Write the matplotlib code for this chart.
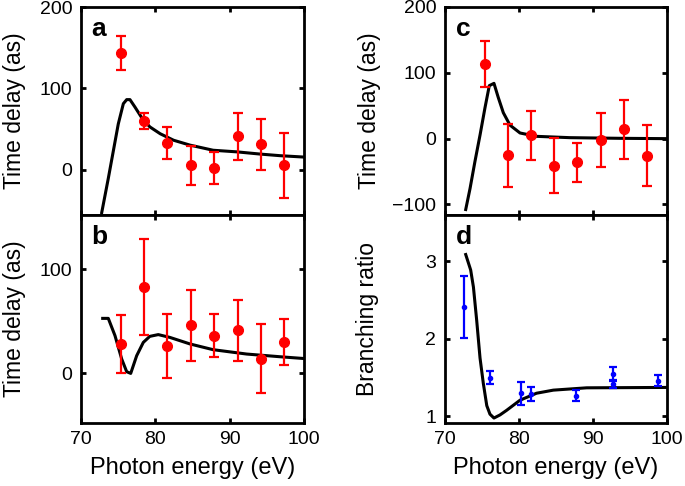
import matplotlib
matplotlib.use("Agg")
import matplotlib.pyplot as plt
import numpy as np

plt.rcParams['font.family'] = ['Liberation Sans', 'DejaVu Sans']

# ---- data ----
energy = [75.4, 78.5, 81.6, 84.8, 87.9, 91.1, 94.2, 97.3]

# panel a
a_delay = [143, 60, 33, 5, 1.7, 41, 31, 5]
a_err = [21, 10, 19.5, 23.5, 20, 29, 31.5, 40]
a_theory_x = [72.85, 73.73, 74.4, 75.07, 75.75, 76.2, 76.64, 77.3, 78.2, 79.3, 80.7,
              82.5, 84.7, 87.8, 91.0, 94.1, 96.8, 99.8]
a_theory_y = [-53, -11, 22.5, 56, 81, 86, 86, 77, 64, 52.5, 44,
              36, 30, 23.7, 21.7, 19, 17, 15.4]

# panel b
b_delay = [28, 83, 26, 46, 36, 41, 14, 30]
b_err = [28, 46, 31, 34, 21, 29, 33, 22]
b_theory_x = [72.98, 73.73, 74.63, 75.53, 76.2, 76.74, 77.54, 78.43, 79.3, 80.44, 82.0,
              84.7, 87.8, 92.3, 96.8, 99.8]
b_theory_y = [52.6, 52.6, 36, 13.5, 1.3, -0.3, 16.7, 29.5, 35.3, 37, 34.3,
              28, 22.5, 18.3, 15.7, 14.1]

# panel c
c_delay = [114, -25, 5, -41, -36, -2, 14, -26]
c_err = [35, 48, 37, 42, 30, 41, 45, 46]
c_theory_x = [72.86, 73.44, 74.1, 74.8, 75.46, 76.04, 76.67, 77.25, 77.93, 78.83, 80.18,
              82.4, 86.9, 93.66, 99.96]
c_theory_y = [-107.7, -76, -35, 6, 47, 80.5, 84, 62.5, 39.4, 20.5, 8.6,
              3.5, 1.5, 0.5, 0]

# panel d
d_energy = [72.6, 76.2, 80.27, 81.66, 87.69, 92.76, 92.76, 98.74]
d_ratio = [2.41, 1.50, 1.30, 1.29, 1.27, 1.55, 1.42, 1.46]
d_err = [0.40, 0.085, 0.15, 0.09, 0.07, 0.09, 0.05, 0.07]
d_theory_x = [72.86, 73.53, 73.9, 74.34, 74.79, 75.23, 75.7, 76.13, 76.67, 77.48, 78.38,
              80.18, 82.4, 84.67, 89.17, 99.96]
d_theory_y = [3.09, 2.89, 2.67, 2.24, 1.755, 1.43, 1.14, 1.03, 0.98, 1.02, 1.08,
              1.21, 1.30, 1.34, 1.37, 1.375]

xticks = [70, 80, 90, 100]

# ---- figure ----
W, H = 685, 486
fig = plt.figure(figsize=(W / 100, H / 100), dpi=100)

def box(l, t, r, b):
    return [l / W, 1 - b / H, (r - l) / W, (b - t) / H]

ax_a = fig.add_axes(box(80.5, 7, 304, 215))
ax_b = fig.add_axes(box(80.5, 215, 304, 423))
ax_c = fig.add_axes(box(444.5, 7, 667, 215))
ax_d = fig.add_axes(box(444.5, 215, 667, 423))

red = '#ff0000'
blue = '#0000ff'
TICK = 14
LABEL = 16.5

def style(ax, bottom_labels):
    for s in ax.spines.values():
        s.set_linewidth(2.0)
    ax.set_xlim(70, 100)
    ax.set_xticks(xticks)
    ax.tick_params(direction='in', length=3.5, width=2, top=True, right=True,
                   labelsize=TICK, pad=6)
    if bottom_labels:
        ax.set_xlabel('Photon energy (eV)', fontsize=17, labelpad=6.5)
    else:
        ax.tick_params(labelbottom=False)

def red_data(ax, y, e):
    ax.errorbar(energy, y, yerr=e, fmt='o', color=red, ms=7, elinewidth=1.6,
                capsize=3.5, capthick=1.6, zorder=3)

# a
ax_a.plot(a_theory_x, a_theory_y, color='black', lw=2.2, zorder=2)
red_data(ax_a, a_delay, a_err)
ax_a.set_ylim(-56, 200)
ax_a.set_yticks([0, 100, 200])
style(ax_a, False)
ax_a.set_ylabel('Time delay (as)', fontsize=LABEL)
ax_a.yaxis.set_label_coords(-0.245, 0.5)

# b
ax_b.plot(b_theory_x, b_theory_y, color='black', lw=2.2, zorder=2)
red_data(ax_b, b_delay, b_err)
ax_b.set_ylim(-48, 152)
ax_b.set_yticks([0, 100])
style(ax_b, True)
ax_b.set_ylabel('Time delay (as)', fontsize=LABEL)
ax_b.yaxis.set_label_coords(-0.245, 0.5)

# c
ax_c.plot(c_theory_x, c_theory_y, color='black', lw=2.2, zorder=2)
red_data(ax_c, c_delay, c_err)
ax_c.set_ylim(-116, 200)
ax_c.set_yticks([-100, 0, 100, 200])
style(ax_c, False)
ax_c.set_ylabel('Time delay (as)', fontsize=LABEL)
ax_c.yaxis.set_label_coords(-0.285, 0.5)

# d
ax_d.plot(d_theory_x, d_theory_y, color='black', lw=2.2, zorder=2)
ax_d.errorbar(d_energy, d_ratio, yerr=d_err, fmt='o', color=blue, ms=3,
              elinewidth=1.6, capsize=3.2, capthick=1.6, zorder=3)
ax_d.set_ylim(0.916, 3.6)
ax_d.set_yticks([1, 2, 3])
style(ax_d, True)
ax_d.set_ylabel('Branching ratio', fontsize=LABEL)
ax_d.yaxis.set_label_coords(-0.295, 0.5)

for ax, lab in [(ax_a, 'a'), (ax_b, 'b'), (ax_c, 'c'), (ax_d, 'd')]:
    ax.text(0.05, 0.95, lab, transform=ax.transAxes, fontsize=19, fontweight='bold',
            va='top', ha='left')

fig.savefig('out.png', dpi=100)
